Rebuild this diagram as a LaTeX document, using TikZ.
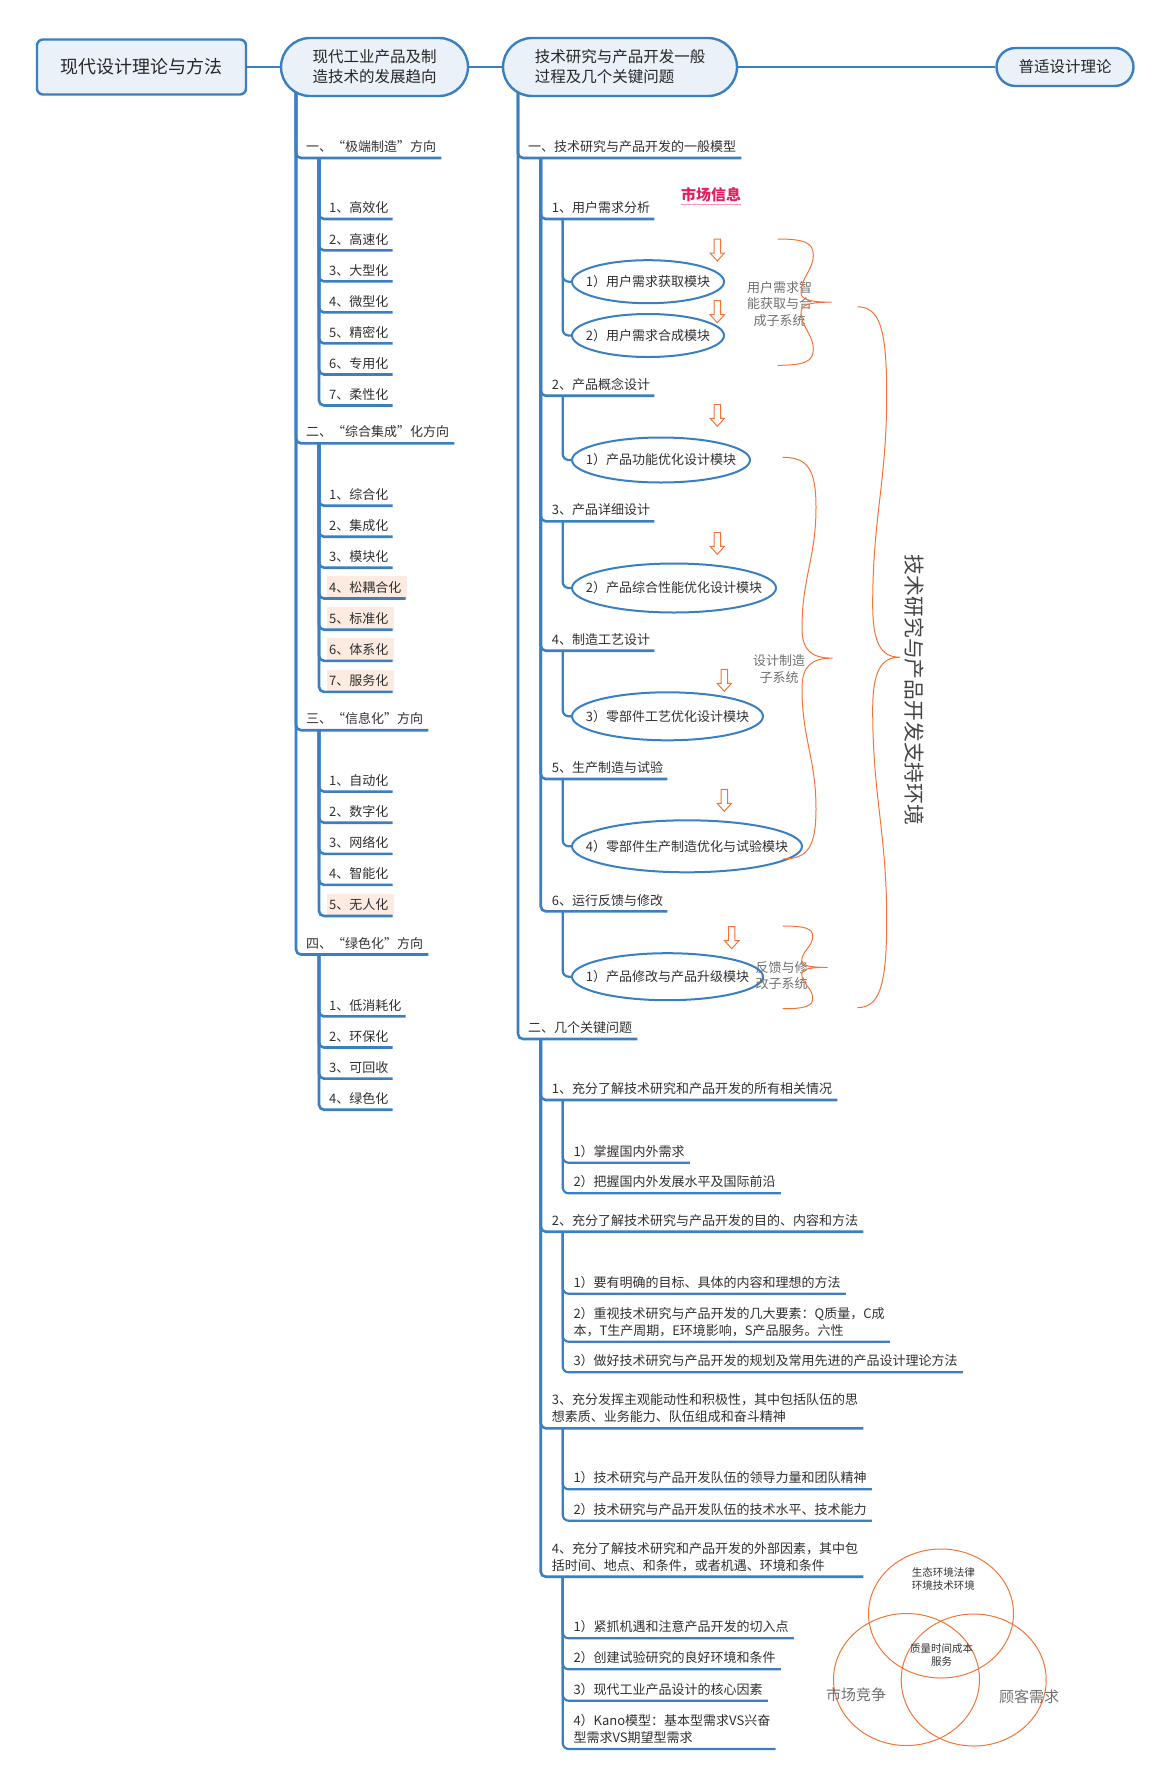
\documentclass[tikz,border=0pt]{standalone}
\usepackage{fontspec}
\setmainfont{Noto Sans CJK SC}
\usetikzlibrary{shapes.geometric,backgrounds}

\definecolor{branch}{HTML}{3A7FC1}
\definecolor{nodefill}{HTML}{EAF1F9}
\definecolor{inktext}{HTML}{303030}
\definecolor{hlfill}{HTML}{FDEBE1}
\definecolor{orangeline}{HTML}{F47436}
\definecolor{grayink}{HTML}{707070}
\definecolor{envink}{HTML}{444444}
\definecolor{marketred}{HTML}{E2215C}
\definecolor{marketline}{HTML}{F29AB4}

\pgfdeclarelayer{shade}
\pgfsetlayers{shade,background,main}

\tikzset{
  x=1pt, y=-1pt,
  item/.style={anchor=south west, inner xsep=0pt, inner ysep=5pt, text=inktext,
    align=left, font=\fontsize{13}{17}\selectfont},
  link/.style={draw=branch, line width=2.6pt, rounded corners=5pt},
  sublink/.style={draw=branch, line width=2.2pt, rounded corners=6pt},
  module/.style={ellipse, draw=branch, line width=2pt, fill=white,
    inner xsep=-30pt, inner ysep=0pt,
    anchor=west, text=inktext, font=\fontsize{13}{17}\selectfont},
  topic/.style={draw=branch, line width=2.4pt, fill=nodefill, text=black!85,
    inner sep=0pt, font=\fontsize{15.5}{20}\selectfont},
  sublabel/.style={align=center, text=grayink, inner sep=0pt,
    font=\fontsize{13}{16.7}\selectfont},
  bracestyle/.style={draw=orangeline, line width=1pt},
  venn/.style={ellipse, draw=orangeline, line width=1pt, inner sep=0pt},
  vennsmall/.style={align=center, text=black!80, inner sep=0pt,
    font=\fontsize{10.5}{13}\selectfont},
  vennbig/.style={text=grayink, inner sep=0pt, font=\fontsize{15}{18}\selectfont},
  downarrow/.pic={\draw[draw=orangeline, line width=1pt, fill=white, line join=miter]
    (-3.2,0) -- (3.2,0) -- (3.2,14) -- (7.2,14) -- (0,22) -- (-7.2,14) -- (-3.2,14) -- cycle;}
}

% right-facing curly brace: x of ends, top y, bottom y, bulge x, inner x, tip x
\newcommand{\orangebrace}[6]{%
  \pgfmathsetmacro{\bym}{(#2+#3)/2}%
  \pgfmathsetmacro{\byh}{(#3-#2)/2}%
  \draw[bracestyle] (#1,#2)
    .. controls ({#1+0.75*(#4-#1)},#2) and (#4,{#2+0.06*\byh}) .. (#4,{#2+0.25*\byh})
    .. controls (#4,{#2+0.5*\byh}) and (#5,{#2+0.6*\byh}) .. (#5,{#2+0.85*\byh})
    .. controls (#5,{\bym-0.04*\byh}) and ({#5+0.3*(#6-#5)},\bym) .. (#6,\bym)
    .. controls ({#5+0.3*(#6-#5)},\bym) and (#5,{\bym+0.04*\byh}) .. (#5,{#3-0.85*\byh})
    .. controls (#5,{#3-0.6*\byh}) and (#4,{#3-0.5*\byh}) .. (#4,{#3-0.25*\byh})
    .. controls (#4,{#3-0.06*\byh}) and ({#1+0.75*(#4-#1)},#3) .. (#1,#3);
}

\begin{document}
\begin{tikzpicture}
\path[use as bounding box] (0,0) rectangle (1171,1786);

% ---- top row of topics
\node[topic, rounded corners=6pt, minimum width=209pt, minimum height=55pt,
      font=\fontsize{18}{22}\selectfont] (root) at (141.5,67) {现代设计理论与方法};
\node[topic, rounded corners=29pt, minimum width=187pt, minimum height=58pt, align=center]
      (trend) at (374.5,67) {现代工业产品及制\\造技术的发展趋向};
\node[topic, rounded corners=29pt, minimum width=234pt, minimum height=58pt, align=left]
      (process) at (620,67) {技术研究与产品开发一般\\过程及几个关键问题};
\node[topic, rounded corners=19pt, minimum width=137pt, minimum height=38pt]
      (general) at (1065,67) {普适设计理论};

\coordinate (lv) at (296,80);
\coordinate (mv) at (518,80);

% ---- left column: development trends
\node[item] (La) at (306,158) {一、“极端制造”方向};
\node[item] (a1) at (329,219) {1、高效化};
\node[item] (a2) at (329,250.3) {2、高速化};
\node[item] (a3) at (329,281.4) {3、大型化};
\node[item] (a4) at (329,312.4) {4、微型化};
\node[item] (a5) at (329,343.4) {5、精密化};
\node[item] (a6) at (329,374.5) {6、专用化};
\node[item] (a7) at (329,405.5) {7、柔性化};

\node[item] (Lb) at (306,443.3) {二、“综合集成”化方向};
\node[item] (b1) at (329,505.7) {1、综合化};
\node[item] (b2) at (329,536.7) {2、集成化};
\node[item] (b3) at (329,567.7) {3、模块化};
\node[item] (b4) at (329,598.5) {4、松耦合化};
\node[item] (b5) at (329,629.7) {5、标准化};
\node[item] (b6) at (329,660.8) {6、体系化};
\node[item] (b7) at (329,691.9) {7、服务化};

\node[item] (Lc) at (306,730.2) {三、“信息化”方向};
\node[item] (c1) at (329,791.6) {1、自动化};
\node[item] (c2) at (329,822.7) {2、数字化};
\node[item] (c3) at (329,853.8) {3、网络化};
\node[item] (c4) at (329,884.9) {4、智能化};
\node[item] (c5) at (329,916) {5、无人化};

\node[item] (Ld) at (306,954.5) {四、“绿色化”方向};
\node[item] (d1) at (329,1016.4) {1、低消耗化};
\node[item] (d2) at (329,1047.5) {2、环保化};
\node[item] (d3) at (329,1078.6) {3、可回收};
\node[item] (d4) at (329,1109.7) {4、绿色化};

% ---- middle column: general model
\node[item] (Ma) at (528,158) {一、技术研究与产品开发的一般模型};
\node[item] (m1) at (551.7,219) {1、用户需求分析};
\node[item] (m2) at (551.7,395.7) {2、产品概念设计};
\node[item] (m3) at (551.7,521.3) {3、产品详细设计};
\node[item] (m4) at (551.7,650.7) {4、制造工艺设计};
\node[item] (m5) at (551.7,779) {5、生产制造与试验};
\node[item] (m6) at (551.7,911.3) {6、运行反馈与修改};

\node[module, minimum width=152pt, minimum height=43pt] (e1) at (571,281.7) {1）用户需求获取模块};
\node[module, minimum width=152pt, minimum height=43pt] (e2) at (571,335.5) {2）用户需求合成模块};
\node[module, minimum width=178pt, minimum height=45pt] (e3) at (571,460) {1）产品功能优化设计模块};
\node[module, minimum width=204pt, minimum height=49pt] (e4) at (571,588) {2）产品综合性能优化设计模块};
\node[module, minimum width=191pt, minimum height=48pt] (e5) at (571,716.3) {3）零部件工艺优化设计模块};
\node[module, minimum width=230pt, minimum height=52pt] (e6) at (571,846.3) {4）零部件生产制造优化与试验模块};
\node[module, minimum width=191pt, minimum height=47pt] (e7) at (571,976.7) {1）产品修改与产品升级模块};

\node[inner sep=0pt, text=marketred, font=\fontsize{15}{18}\selectfont\bfseries] (market) at (711,195) {市场信息};
\draw[marketline, line width=1.6pt] ([yshift=-2pt]market.south west) -- ([yshift=-2pt]market.south east);

\pic at (717.3,239) {downarrow};
\pic at (717.3,300.7) {downarrow};
\pic at (717.3,404.3) {downarrow};
\pic at (717.3,532.3) {downarrow};
\pic at (724.3,669.3) {downarrow};
\pic at (724.3,789.3) {downarrow};
\pic at (731.7,926.7) {downarrow};

\node[sublabel] (sys1) at (779.5,304) {用户需求智\\能获取与合\\成子系统};
\node[sublabel] (sys2) at (779,669) {设计制造\\子系统};
\node[sublabel] (sys3) at (781.7,975.7) {反馈与修\\改子系统};

\orangebrace{777.7}{239}{365.3}{813.3}{801}{831.7}
\orangebrace{782.7}{457.3}{859}{816}{802}{832.7}
\orangebrace{782.7}{926}{1008.7}{812.7}{801.7}{827.7}
\orangebrace{857.3}{306.8}{1007.6}{886.7}{872.7}{900}

\node[rotate=-90, inner sep=0pt, text=envink, font=\fontsize{20.8}{24}\selectfont]
      (env) at (914,690) {技术研究与产品开发支持环境};

% ---- middle column: key problems
\node[item] (Mb) at (528,1039) {二、几个关键问题};
\node[item] (k1) at (551.7,1100) {1、充分了解技术研究和产品开发的所有相关情况};
\node[item] (k1a) at (573.3,1162.7) {1）掌握国内外需求};
\node[item] (k1b) at (573.3,1193.3) {2）把握国内外发展水平及国际前沿};
\node[item] (k2) at (551.7,1231.7) {2、充分了解技术研究与产品开发的目的、内容和方法};
\node[item] (k2a) at (573.3,1293.7) {1）要有明确的目标、具体的内容和理想的方法};
\node[item] (k2b) at (573.3,1341.7) {2）重视技术研究与产品开发的几大要素：Q质量，C成\\本，T生产周期，E环境影响，S产品服务。六性};
\node[item] (k2c) at (573.3,1372.3) {3）做好技术研究与产品开发的规划及常用先进的产品设计理论方法};
\node[item] (k3) at (551.7,1428.3) {3、充分发挥主观能动性和积极性，其中包括队伍的思\\想素质、业务能力、队伍组成和奋斗精神};
\node[item] (k3a) at (573.3,1489.3) {1）技术研究与产品开发队伍的领导力量和团队精神};
\node[item] (k3b) at (573.3,1520.7) {2）技术研究与产品开发队伍的技术水平、技术能力};
\node[item] (k4) at (551.7,1576.7) {4、充分了解技术研究和产品开发的外部因素，其中包\\括时间、地点、和条件，或者机遇、环境和条件};
\node[item] (k4a) at (573.3,1638.3) {1）紧抓机遇和注意产品开发的切入点};
\node[item] (k4b) at (573.3,1669.3) {2）创建试验研究的良好环境和条件};
\node[item] (k4c) at (573.3,1700.7) {3）现代工业产品设计的核心因素};
\node[item] (k4d) at (573.3,1749) {4）Kano模型：基本型需求VS兴奋\\型需求VS期望型需求};

% ---- three-circle diagram of external factors
\node[venn, minimum width=145pt, minimum height=129pt] (vtop) at (941,1613.5) {};
\node[venn, minimum width=146pt, minimum height=132pt] (vleft) at (906.5,1679.5) {};
\node[venn, minimum width=145pt, minimum height=132pt] (vright) at (973.7,1680) {};
\node[vennsmall] (vtoptext) at (943.3,1579) {生态环境法律\\环境技术环境};
\node[vennsmall] (vmidtext) at (941.6,1655) {质量时间成本\\服务};
\node[vennbig] (vlefttext) at (856,1695) {市场竞争};
\node[vennbig] (vrighttext) at (1029,1697) {顾客需求};

% ---- highlighted topics
\begin{pgfonlayer}{shade}
\foreach \n in {b4,b5,b6,b7,c5}
  \fill[hlfill] ([xshift=-2pt]\n.south west) rectangle ([xshift=5pt]\n.north east);
\end{pgfonlayer}

% ---- connectors
\begin{pgfonlayer}{background}
\draw[link] (root) -- (trend);
\draw[link] (trend) -- (process);
\draw[link] (process) -- (general);

\foreach \n in {La,Lb,Lc,Ld}
  \draw[link] (lv) |- ([xshift=5pt]\n.south east);
\foreach \n in {a1,a2,a3,a4,a5,a6,a7}
  \draw[link] ([xshift=13pt]La.south west) |- ([xshift=4pt]\n.south east);
\foreach \n in {b1,b2,b3,b4,b5,b6,b7}
  \draw[link] ([xshift=13pt]Lb.south west) |- ([xshift=4pt]\n.south east);
\foreach \n in {c1,c2,c3,c4,c5}
  \draw[link] ([xshift=13pt]Lc.south west) |- ([xshift=4pt]\n.south east);
\foreach \n in {d1,d2,d3,d4}
  \draw[link] ([xshift=13pt]Ld.south west) |- ([xshift=4pt]\n.south east);

\foreach \n in {Ma,Mb}
  \draw[link] (mv) |- ([xshift=5pt]\n.south east);
\foreach \n in {m1,m2,m3,m4,m5,m6}
  \draw[link] ([xshift=12.7pt]Ma.south west) |- ([xshift=4pt]\n.south east);
\draw[sublink] ([xshift=11pt]m1.south west) |- (e1.west);
\draw[sublink] ([xshift=11pt]m1.south west) |- (e2.west);
\draw[sublink] ([xshift=11pt]m2.south west) |- (e3.west);
\draw[sublink] ([xshift=11pt]m3.south west) |- (e4.west);
\draw[sublink] ([xshift=11pt]m4.south west) |- (e5.west);
\draw[sublink] ([xshift=11pt]m5.south west) |- (e6.west);
\draw[sublink] ([xshift=11pt]m6.south west) |- (e7.west);

\foreach \n in {k1,k2,k3,k4}
  \draw[link] ([xshift=12.7pt]Mb.south west) |- ([xshift=5pt]\n.south east);
\foreach \n in {k1a,k1b}
  \draw[sublink] ([xshift=11pt]k1.south west) |- ([xshift=5pt]\n.south east);
\foreach \n in {k2a,k2b,k2c}
  \draw[sublink] ([xshift=11pt]k2.south west) |- ([xshift=5pt]\n.south east);
\foreach \n in {k3a,k3b}
  \draw[sublink] ([xshift=11pt]k3.south west) |- ([xshift=5pt]\n.south east);
\foreach \n in {k4a,k4b,k4c,k4d}
  \draw[sublink] ([xshift=11pt]k4.south west) |- ([xshift=5pt]\n.south east);
\end{pgfonlayer}
\end{tikzpicture}
\end{document}
